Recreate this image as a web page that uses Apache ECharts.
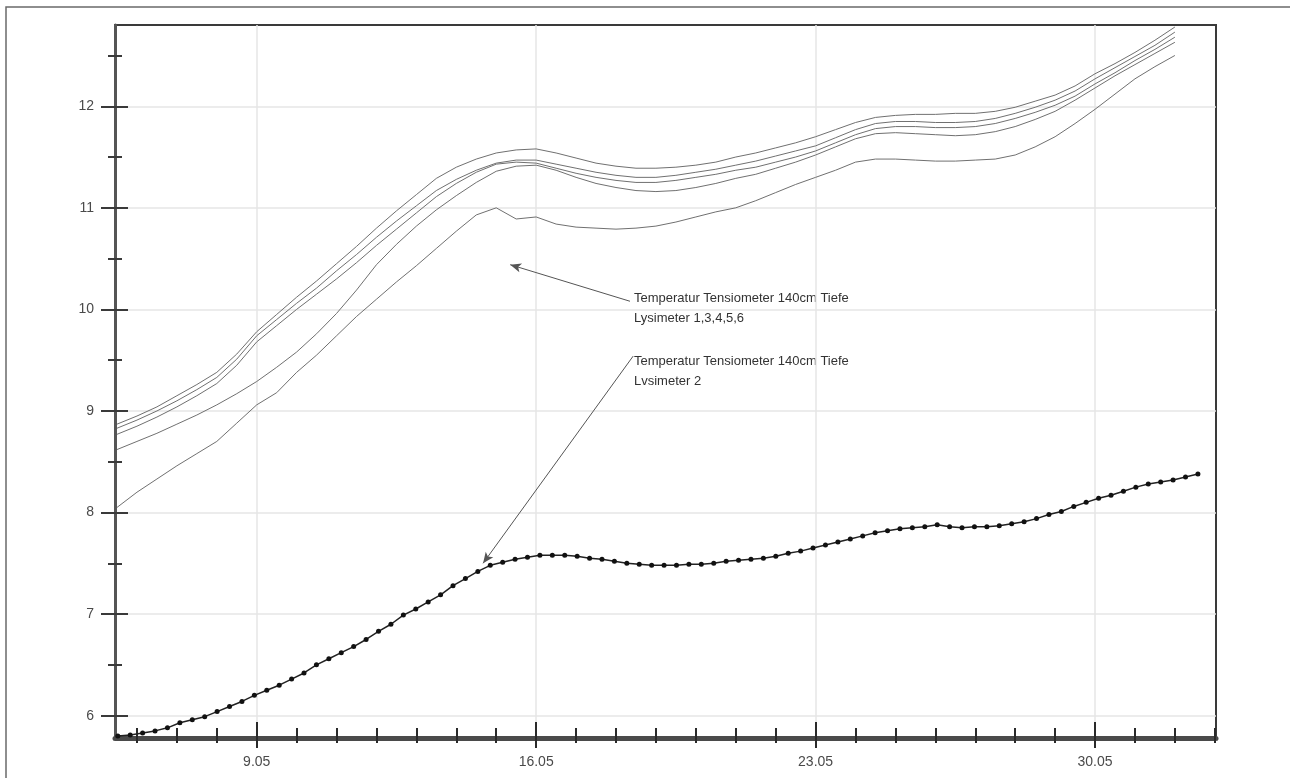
<!DOCTYPE html>
<html>
<head>
<meta charset="utf-8">
<script src="https://cdn.jsdelivr.net/npm/echarts@6/dist/echarts.min.js"></script>
<style>
  html, body { margin: 0; padding: 0; background: #ffffff; }
  #chart { width: 1290px; height: 778px; }
</style>
</head>
<body>
<div id="chart"></div>
<script>
// ---------- DATA ----------
// x values are days of May (32 = 1 June)
const xLabelDays  = [9, 16, 23, 30];
const xLabelTexts = ['9.05', '16.05', '23.05', '30.05'];
const xMinorDays  = [6,7,8,9,10,11,12,13,14,15,16,17,18,19,20,21,22,23,24,25,26,27,28,29,30,31,32,33];
const yLabelValues = [6, 7, 8, 9, 10, 11, 12];
const yMinorValues = [6.5, 7.5, 8.5, 9.5, 10.5, 11.5, 12.5];

// Lysimeter 1,3,4,5,6 (five thin grey lines), sampled at these days
const upperDays = [5.5,6,6.5,7,7.5,8,8.5,9,9.5,10,10.5,11,11.5,12,12.5,13,13.5,14,14.5,15,15.5,16,16.5,17,17.5,18,18.5,19,19.5,20,20.5,21,21.5,22,22.5,23,23.5,24,24.5,25,25.5,26,26.5,27,27.5,28,28.5,29,29.5,30,30.5,31,31.5,32];
const lysA = [8.87,8.95,9.04,9.15,9.26,9.38,9.56,9.78,9.95,10.12,10.28,10.45,10.62,10.80,10.97,11.13,11.29,11.40,11.48,11.54,11.57,11.58,11.54,11.49,11.44,11.41,11.39,11.39,11.40,11.42,11.45,11.50,11.54,11.59,11.64,11.70,11.77,11.84,11.89,11.91,11.92,11.92,11.93,11.93,11.95,11.99,12.05,12.11,12.20,12.32,12.42,12.53,12.65,12.78];
const lysB = [8.83,8.91,9.00,9.10,9.21,9.33,9.51,9.74,9.90,10.06,10.21,10.38,10.54,10.71,10.87,11.02,11.17,11.28,11.37,11.44,11.47,11.47,11.43,11.39,11.35,11.32,11.30,11.30,11.32,11.35,11.38,11.42,11.46,11.51,11.56,11.61,11.69,11.77,11.83,11.85,11.85,11.84,11.84,11.85,11.88,11.93,11.99,12.06,12.15,12.27,12.38,12.49,12.60,12.73];
const lysC = [8.77,8.85,8.94,9.04,9.15,9.27,9.45,9.68,9.84,10.00,10.15,10.30,10.46,10.63,10.79,10.95,11.11,11.24,11.35,11.43,11.45,11.44,11.39,11.34,11.30,11.27,11.25,11.25,11.27,11.30,11.33,11.37,11.40,11.45,11.50,11.56,11.64,11.72,11.78,11.80,11.80,11.79,11.79,11.80,11.83,11.88,11.94,12.01,12.10,12.22,12.33,12.45,12.56,12.68];
const lysD = [8.62,8.70,8.78,8.87,8.96,9.06,9.17,9.29,9.43,9.58,9.76,9.96,10.19,10.44,10.64,10.82,10.98,11.12,11.25,11.36,11.41,11.42,11.37,11.30,11.24,11.20,11.17,11.16,11.17,11.20,11.24,11.29,11.33,11.39,11.45,11.52,11.60,11.68,11.73,11.74,11.73,11.72,11.71,11.72,11.75,11.80,11.87,11.95,12.06,12.18,12.30,12.41,12.52,12.63];
const lysE = [8.05,8.20,8.33,8.46,8.58,8.70,8.88,9.06,9.18,9.38,9.55,9.74,9.93,10.10,10.27,10.43,10.60,10.77,10.93,11.00,10.89,10.91,10.84,10.81,10.80,10.79,10.80,10.82,10.86,10.91,10.96,11.00,11.07,11.15,11.23,11.30,11.37,11.45,11.48,11.48,11.47,11.46,11.46,11.47,11.48,11.52,11.60,11.70,11.83,11.97,12.12,12.27,12.39,12.50];

// Lysimeter 2 (black line with markers), logged every 7.5 h from day lys2Start
const lys2Start = 5.52;
const lys2StepDays = 0.311;
const lys2Values = [5.80,5.81,5.83,5.85,5.88,5.93,5.96,5.99,6.04,6.09,6.14,6.20,6.25,6.30,6.36,6.42,6.50,6.56,6.62,6.68,6.75,6.83,6.90,6.99,7.05,7.12,7.19,7.28,7.35,7.42,7.48,7.51,7.54,7.56,7.58,7.58,7.58,7.57,7.55,7.54,7.52,7.50,7.49,7.48,7.48,7.48,7.49,7.49,7.50,7.52,7.53,7.54,7.55,7.57,7.60,7.62,7.65,7.68,7.71,7.74,7.77,7.80,7.82,7.84,7.85,7.86,7.88,7.86,7.85,7.86,7.86,7.87,7.89,7.91,7.94,7.98,8.01,8.06,8.10,8.14,8.17,8.21,8.25,8.28,8.30,8.32,8.35,8.38];

// annotation texts and arrow anchors (data units: [day, °C])
const noteUpper = ['Temperatur Tensiometer 140cm Tiefe', 'Lysimeter 1,3,4,5,6'];
const noteLower = ['Temperatur Tensiometer 140cm Tiefe', 'Lvsimeter 2'];
const arrowUpper = { from: [18.35, 10.08], to: [15.35, 10.44] };
const arrowLower = { from: [18.43, 9.54], to: [14.67, 7.50] };

// ---------- CHART ----------
const X_MIN = 5.45, X_MAX = 33.03, Y_MIN = 5.78, Y_MAX = 12.8;
const FONT = '"Liberation Sans", Arial, Helvetica, sans-serif';

function pairs(xs, ys) { return xs.map((x, i) => [x, ys[i]]); }
const lys2Data = lys2Values.map((v, i) => [lys2Start + i * lys2StepDays, v]);

const chart = echarts.init(document.getElementById('chart'), null, { renderer: 'canvas' });

function xAx(extra) {
  return Object.assign({
    type: 'value', min: X_MIN, max: X_MAX, position: 'bottom', gridIndex: 0,
    axisLine: { show: false }, axisLabel: { show: false }, splitLine: { show: false },
    axisTick: { show: false }
  }, extra);
}
function yAx(extra) {
  return Object.assign({
    type: 'value', min: Y_MIN, max: Y_MAX, position: 'left', gridIndex: 0,
    axisLine: { show: false }, axisLabel: { show: false }, splitLine: { show: false },
    axisTick: { show: false }
  }, extra);
}

const upperStyle = { color: '#707070', width: 1 };
const upperSeries = [lysA, lysB, lysC, lysD, lysE].map((vals, k) => ({
  type: 'line', name: 'L' + k, data: pairs(upperDays, vals),
  showSymbol: false, symbol: 'none', smooth: false, silent: true,
  lineStyle: upperStyle, z: 3, animation: false
}));

const option = {
  animation: false,
  backgroundColor: '#ffffff',
  textStyle: { fontFamily: FONT },
  grid: {
    left: 115, right: 74, top: 25, bottom: 40,
    show: true, borderColor: '#3a3a3a', borderWidth: 2, backgroundColor: 'transparent',
    outerBoundsMode: 'none', containLabel: false
  },
  xAxis: [
    xAx({
      axisLine: { show: true, onZero: false, lineStyle: { color: '#4a4a4a', width: 5 } },
      axisTick: { show: true, customValues: xLabelDays, length: 10, lineStyle: { color: '#2a2a2a', width: 2 } },
      axisLabel: { show: true, customValues: xLabelDays, margin: 17, fontSize: 14, color: '#4a4a4a', fontFamily: FONT,
        formatter: v => xLabelTexts[xLabelDays.indexOf(v)] },
      splitLine: { show: true, lineStyle: { color: '#e6e6e6', width: 1.5 } }
    }),
    xAx({ axisTick: { show: true, inside: true, customValues: xLabelDays, length: 16, lineStyle: { color: '#2a2a2a', width: 2 } } }),
    xAx({ axisTick: { show: true, customValues: xMinorDays, length: 5, lineStyle: { color: '#2a2a2a', width: 2 } } }),
    xAx({ axisTick: { show: true, inside: true, customValues: xMinorDays, length: 10, lineStyle: { color: '#2a2a2a', width: 2 } } })
  ],
  yAxis: [
    yAx({
      axisLine: { show: true, onZero: false, lineStyle: { color: '#555555', width: 3 } },
      axisTick: { show: true, customValues: yLabelValues, length: 14, lineStyle: { color: '#3a3a3a', width: 2 } },
      axisLabel: { show: true, customValues: yLabelValues, margin: 21, fontSize: 14, color: '#4a4a4a', fontFamily: FONT },
      splitLine: { show: true, lineStyle: { color: '#e6e6e6', width: 1.5 } }
    }),
    yAx({ axisTick: { show: true, inside: true, customValues: yLabelValues, length: 13, lineStyle: { color: '#3a3a3a', width: 2 } } }),
    yAx({ axisTick: { show: true, customValues: yMinorValues, length: 7, lineStyle: { color: '#3a3a3a', width: 2 } } }),
    yAx({ axisTick: { show: true, inside: true, customValues: yMinorValues, length: 7, lineStyle: { color: '#3a3a3a', width: 2 } } })
  ],
  series: upperSeries.concat([
    {
      type: 'line', name: 'Lysimeter 2', data: lys2Data,
      xAxisIndex: 0, yAxisIndex: 0,
      symbol: 'circle', symbolSize: 5, showSymbol: true, showAllSymbol: true,
      itemStyle: { color: '#111111' },
      lineStyle: { color: '#222222', width: 1.5 },
      z: 4, silent: true, animation: false,
      markLine: {
        silent: true, animation: false,
        symbol: ['none', 'arrow'], symbolSize: [7, 11],
        label: { show: false },
        lineStyle: { color: '#555555', width: 1, type: 'solid' },
        data: [
          [{ coord: arrowUpper.from }, { coord: arrowUpper.to }],
          [{ coord: arrowLower.from }, { coord: arrowLower.to }]
        ]
      }
    }
  ]),
  graphic: [
    { type: 'rect', silent: true, z: 0,
      shape: { x: 6, y: 7, width: 1400, height: 900 },
      style: { fill: 'none', stroke: '#6a6a6a', lineWidth: 1.5 } },
    { type: 'text', silent: true, x: 634, y: 298,
      style: { text: noteUpper[0], font: '13px ' + FONT, fill: '#333333', textVerticalAlign: 'middle' } },
    { type: 'text', silent: true, x: 634, y: 318,
      style: { text: noteUpper[1], font: '13px ' + FONT, fill: '#333333', textVerticalAlign: 'middle' } },
    { type: 'text', silent: true, x: 634, y: 361,
      style: { text: noteLower[0], font: '13px ' + FONT, fill: '#333333', textVerticalAlign: 'middle' } },
    { type: 'text', silent: true, x: 634, y: 381,
      style: { text: noteLower[1], font: '13px ' + FONT, fill: '#333333', textVerticalAlign: 'middle' } }
  ]
};
chart.setOption(option);
</script>
</body>
</html>
